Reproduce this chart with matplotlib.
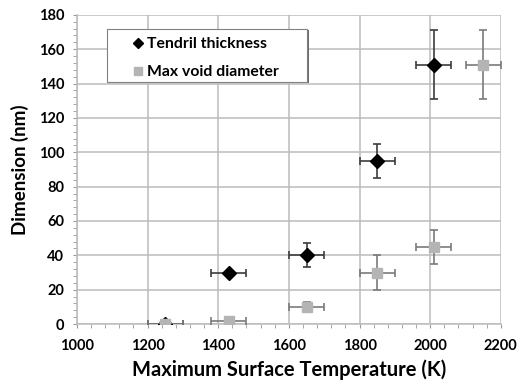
import numpy as np
import matplotlib
matplotlib.use("Agg")
import matplotlib.pyplot as plt
from matplotlib.ticker import MultipleLocator
from matplotlib.lines import Line2D
from matplotlib.patches import Rectangle

plt.rcParams['font.family'] = ['Lato', 'DejaVu Sans']
plt.rcParams['font.weight'] = 'bold'

### data
### ==================================================
tendril_T = [1250, 1430, 1650, 1850, 2010]
tendril_d = [0, 30, 40, 95, 151]
tendril_Terr = [50, 50, 50, 50, 50]
tendril_derr = [0, 0, 7, 10, 20]

void_T = [1250, 1430, 1650, 1850, 2010, 2150]
void_d = [0, 2, 10, 30, 45, 151]
void_Terr = [50, 50, 50, 50, 50, 50]
void_derr = [0, 0, 3, 10, 10, 20]

x_ticks = [1000, 1200, 1400, 1600, 1800, 2000, 2200]
y_ticks = [0, 20, 40, 60, 80, 100, 120, 140, 160, 180]

grid_col = '#bcbcbc'
void_col = '#b4b4b4'

fig = plt.figure(figsize=(5.3, 3.9), dpi=100)
ax = fig.add_axes([0.145, 0.169, 0.80, 0.793])

ax.errorbar(tendril_T, tendril_d, xerr=tendril_Terr, yerr=tendril_derr,
            fmt='D', color='black', ms=7, ecolor='#3c3c3c', elinewidth=1.2,
            capsize=3, capthick=1.2, zorder=3)
ax.errorbar(void_T, void_d, xerr=void_Terr, yerr=void_derr,
            fmt='s', color=void_col, ms=7, ecolor='#7a7a7a', elinewidth=1.2,
            capsize=3, capthick=1.2, zorder=4)

ax.set_xlim(1000, 2200)
ax.set_ylim(0, 180)
ax.set_xticks(x_ticks)
ax.set_yticks(y_ticks)
ax.xaxis.set_minor_locator(MultipleLocator(40))
ax.yaxis.set_minor_locator(MultipleLocator(4))
ax.grid(True, which='major', color=grid_col, lw=1.1)
ax.set_axisbelow(True)

for s in ['top', 'right']:
    ax.spines[s].set_visible(False)
for s in ['left', 'bottom']:
    ax.spines[s].set_color(grid_col)
    ax.spines[s].set_linewidth(1.1)

ax.tick_params(which='both', direction='out', color='#999999')
ax.tick_params(which='major', length=3, labelsize=10.5)
ax.tick_params(axis='x', which='major', pad=8)
ax.tick_params(axis='y', which='major', pad=6)
ax.tick_params(which='minor', length=3)
for lab in ax.get_xticklabels() + ax.get_yticklabels():
    lab.set_fontweight('bold')

ax.set_xlabel('Maximum Surface Temperature (K)', fontsize=14.5, fontweight='bold', labelpad=4)
ax.set_ylabel('Dimension (nm)', fontsize=13.5, fontweight='bold', labelpad=7)

# legend box (frame drawn separately, with a thin shadow on the right/bottom)
ax.add_patch(Rectangle((0.0745, 0.778), 0.472, 0.172, transform=ax.transAxes,
                       facecolor='#6a6a6a', edgecolor='none', zorder=5))
ax.add_patch(Rectangle((0.071, 0.783), 0.472, 0.172, transform=ax.transAxes,
                       facecolor='white', edgecolor='#808080', lw=0.8, zorder=6))

handles = [Line2D([], [], ls='none', marker='D', color='black', ms=5.5),
           Line2D([], [], ls='none', marker='s', color=void_col, ms=6)]
leg = ax.legend(handles, ['Tendril thickness', 'Max void diameter'],
                loc='upper left', bbox_to_anchor=(0.125, 0.928), fontsize=11.3,
                frameon=False, borderpad=0, borderaxespad=0, labelspacing=0.9,
                handlelength=1.0, handletextpad=0.1)
leg.set_zorder(7)
for t in leg.get_texts():
    t.set_fontweight('bold')

fig.savefig('out.png', dpi=100)
